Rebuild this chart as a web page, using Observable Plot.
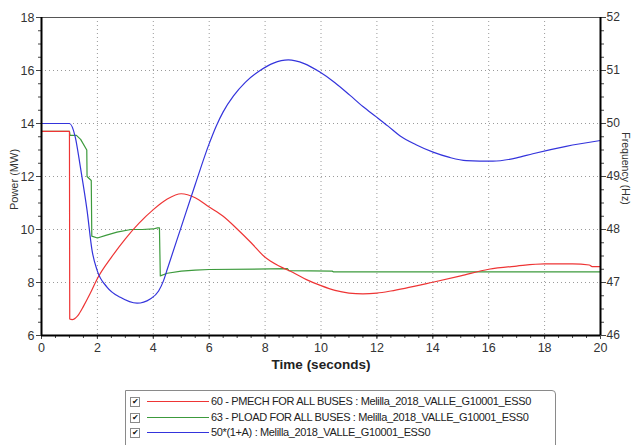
<!DOCTYPE html>
<html>
<head>
<meta charset="utf-8">
<script src="https://cdn.jsdelivr.net/npm/d3@7"></script>
<script src="https://cdn.jsdelivr.net/npm/@observablehq/plot@0.6"></script>
<style>
  html, body { margin: 0; padding: 0; background: #fff; }
  body { width: 632px; height: 445px; position: relative; overflow: hidden; font-family: "Liberation Sans", Arial, sans-serif; }
  #legend { position: absolute; left: 125px; top: 390px; width: 431px; height: 70px; border: 1px solid #8a8a8a; border-top-right-radius: 4px; box-sizing: border-box; }
  .row { position: absolute; left: 0; height: 15px; width: 100%; }
  .cb { position: absolute; left: 4px; top: 3px; width: 8px; height: 8px; border: 1px solid #8a8a8a; font-size: 8px; line-height: 8px; text-align: center; color: #111; }
  .ln { position: absolute; left: 21px; width: 62px; top: 7px; height: 0; border-top: 1px solid; }
  .tx { position: absolute; left: 85px; top: 0px; font-size: 11px; line-height: 15px; color: #222; white-space: nowrap; letter-spacing: -0.35px; }
</style>
</head>
<body>
<div id="chart"></div>
<div id="legend"></div>
<script>
// ---- data ----
const seriesNames = [
  "60 - PMECH FOR ALL BUSES : Melilla_2018_VALLE_G10001_ESS0",
  "63 - PLOAD FOR ALL BUSES : Melilla_2018_VALLE_G10001_ESS0",
  "50*(1+A) : Melilla_2018_VALLE_G10001_ESS0"
];
const seriesColors = ["#ee3535", "#3c9a3c", "#3434dc"];

// PMECH (MW)
const pmechT = [0, 1.0, 1.01, 1.1, 1.3, 1.5, 1.75, 2.0, 2.5, 3.0, 3.5, 4.0, 4.5, 5.0, 5.5, 6.0, 6.5, 7.0, 7.5, 8.0, 8.5, 9.0, 9.5, 10.0, 10.5, 11.0, 11.5, 12.0, 12.5, 13.0, 14.0, 15.0, 16.0, 17.0, 18.0, 19.0, 19.6, 19.7, 20.0];
const pmechV = [13.7, 13.7, 6.62, 6.6, 6.75, 7.1, 7.6, 8.15, 8.95, 9.65, 10.25, 10.75, 11.15, 11.35, 11.2, 10.85, 10.5, 10.02, 9.5, 8.95, 8.62, 8.38, 8.1, 7.88, 7.7, 7.6, 7.57, 7.6, 7.68, 7.78, 8.01, 8.25, 8.5, 8.62, 8.7, 8.7, 8.66, 8.6, 8.6];

// PLOAD (MW)
const ploadT = [0, 1.0, 1.02, 1.25, 1.4, 1.62, 1.63, 1.78, 1.8, 2.0, 2.3, 2.7, 3.2, 3.6, 4.0, 4.15, 4.22, 4.25, 4.5, 5.0, 5.5, 6.0, 8.8, 8.85, 10.4, 10.45, 20.0];
const ploadV = [13.7, 13.7, 13.55, 13.55, 13.4, 13.0, 12.0, 11.85, 9.75, 9.68, 9.78, 9.9, 10.0, 10.0, 10.02, 10.06, 10.06, 8.25, 8.35, 8.43, 8.47, 8.49, 8.52, 8.45, 8.43, 8.4, 8.4];

// Frequency 50*(1+A) (Hz)
const freqT = [0, 1.0, 1.21, 1.39, 1.63, 1.81, 1.99, 2.35, 2.82, 3.42, 3.89, 4.19, 4.37, 4.5, 5.0, 5.5, 6.0, 6.25, 6.5, 6.87, 7.3, 7.82, 8.3, 8.83, 9.4, 9.96, 10.5, 11.04, 11.5, 11.99, 12.4, 12.82, 13.4, 14.01, 14.6, 15.2, 16.15, 17.0, 17.58, 18.77, 20.0];
const freqV = [50, 50, 49.74, 49.18, 48.36, 47.6, 47.23, 46.91, 46.72, 46.61, 46.69, 46.84, 47.04, 47.25, 48.05, 48.85, 49.62, 49.95, 50.22, 50.52, 50.78, 51.0, 51.14, 51.2, 51.13, 50.97, 50.77, 50.53, 50.32, 50.12, 49.95, 49.77, 49.6, 49.46, 49.36, 49.3, 49.29, 49.35, 49.43, 49.57, 49.68];

const xTicks = [0, 2, 4, 6, 8, 10, 12, 14, 16, 18, 20];
const powerTicks = [6, 8, 10, 12, 14, 16, 18];
const freqTicks = [46, 47, 48, 49, 50, 51, 52];

// ---- build ----
const toMW = d3.scaleLinear([46, 52], [6, 18]);
const pmech = pmechT.map((t, i) => ({t, v: pmechV[i]}));
const pload = ploadT.map((t, i) => ({t, v: ploadV[i]}));
const freq = freqT.map((t, i) => ({t, v: toMW(freqV[i])}));

const minorX = d3.range(0, 20.001, 0.5);
const minorY = d3.range(6, 18.001, 0.5);
const font = "Liberation Sans, Arial, sans-serif";

const chart = Plot.plot({
  width: 632,
  height: 374,
  marginTop: 17,
  marginLeft: 41,
  marginRight: 32,
  marginBottom: 39,
  x: {domain: [0, 20]},
  y: {domain: [6, 18]},
  style: {fontFamily: font, fontSize: "12px", color: "#333", background: "transparent"},
  marks: [
    Plot.gridX(xTicks.slice(1, -1), {stroke: "#9a9a9a", strokeOpacity: 1, strokeDasharray: "1,3"}),
    Plot.gridY(powerTicks.slice(1, -1), {stroke: "#9a9a9a", strokeOpacity: 1, strokeDasharray: "1,3"}),
    Plot.axisX(minorX, {tickSize: 3, tickFormat: () => "", label: null, stroke: "#444"}),
    Plot.axisX(xTicks, {tickSize: 4, tickPadding: 4, label: null, fontSize: 12.5, stroke: "#444"}),
    Plot.axisY(minorY, {anchor: "left", tickSize: 3, tickFormat: () => "", label: null, stroke: "#444"}),
    Plot.axisY(powerTicks, {anchor: "left", tickSize: 5, tickPadding: 2, label: null, fontSize: 12.5, stroke: "#444"}),
    Plot.axisY(minorY, {anchor: "right", tickSize: 3, tickFormat: () => "", label: null, stroke: "#444"}),
    Plot.axisY(freqTicks.map(toMW), {anchor: "right", tickSize: 5, tickPadding: 1, label: null, fontSize: 12, stroke: "#444", tickFormat: d => String(Math.round(toMW.invert(d)))}),
    Plot.line(pload, {x: "t", y: "v", stroke: seriesColors[1], strokeWidth: 1.2}),
    Plot.line(pmech, {x: "t", y: "v", stroke: seriesColors[0], strokeWidth: 1.2, curve: "monotone-x"}),
    Plot.line(freq, {x: "t", y: "v", stroke: seriesColors[2], strokeWidth: 1.2, curve: "monotone-x"}),
    Plot.ruleY([18], {stroke: "#555", strokeWidth: 1}),
    Plot.ruleY([6], {stroke: "#000", strokeWidth: 2}),
    Plot.ruleX([0], {stroke: "#000", strokeWidth: 2}),
    Plot.ruleX([20], {stroke: "#000", strokeWidth: 2}),
    Plot.text(["Power (MW)"], {frameAnchor: "left", textAnchor: "middle", lineAnchor: "middle", dx: -27, dy: 3, rotate: -90, fontSize: 11, fill: "#333"}),
    Plot.text(["Frequency (Hz)"], {frameAnchor: "right", textAnchor: "middle", lineAnchor: "middle", dx: 25, dy: -8, rotate: 90, fontSize: 10.5, fill: "#333"}),
    Plot.text(["Time (seconds)"], {frameAnchor: "bottom", textAnchor: "middle", lineAnchor: "middle", dy: 29, fontSize: 13.5, fontWeight: "bold", fill: "#222"})
  ]
});
document.getElementById("chart").appendChild(chart);

// legend
const legend = document.getElementById("legend");
seriesNames.forEach((name, i) => {
  const row = document.createElement("div");
  row.className = "row";
  row.style.top = (3 + i * 15.5) + "px";
  row.innerHTML = `<div class="cb">&#10004;</div><div class="ln" style="border-color:${seriesColors[i]}"></div><div class="tx">${name}</div>`;
  legend.appendChild(row);
});
</script>
</body>
</html>
